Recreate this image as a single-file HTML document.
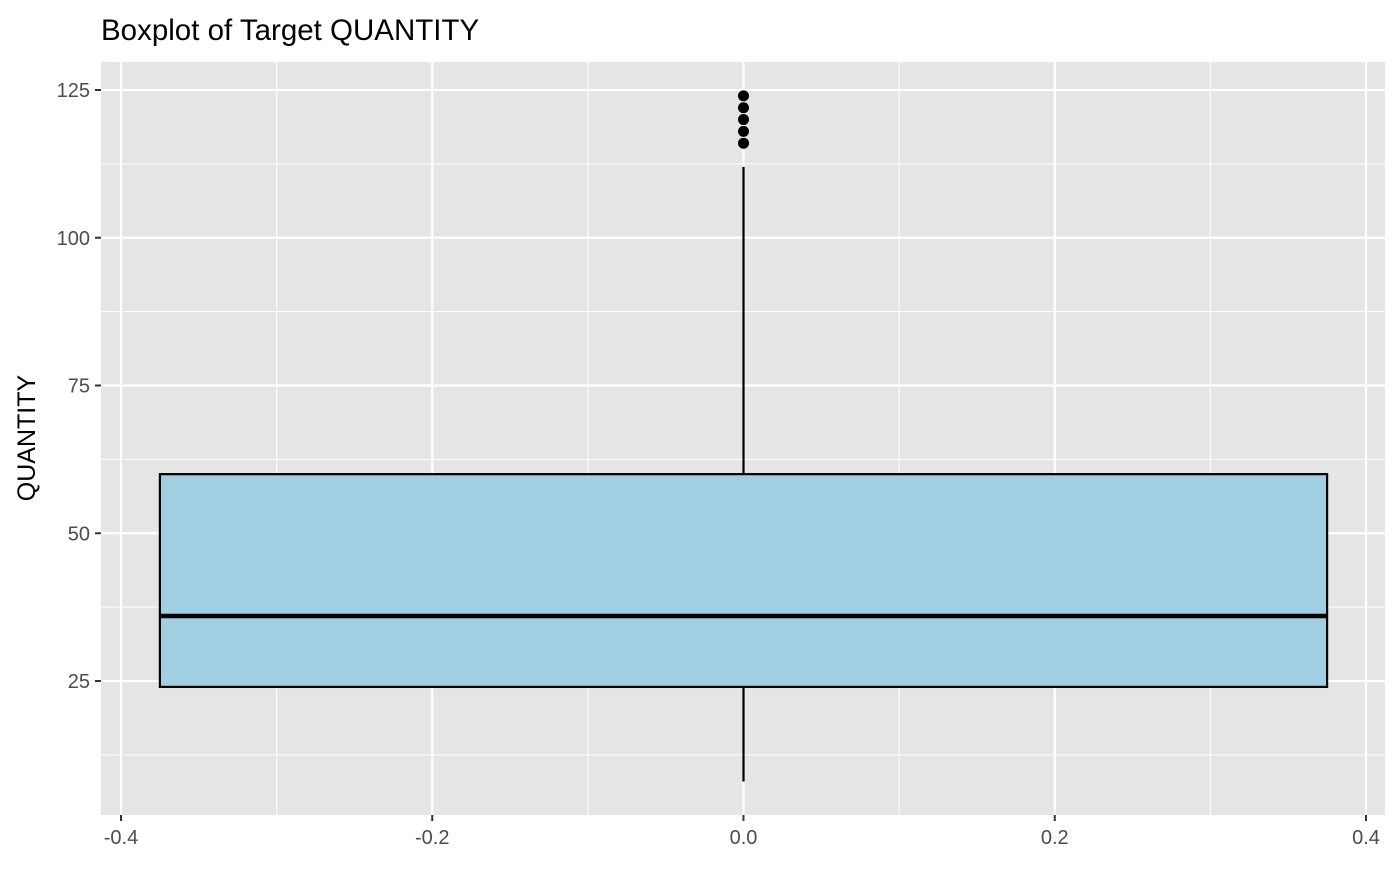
<!DOCTYPE html>
<html><head><meta charset="utf-8"><style>
body{margin:0;background:#fff;font-family:"Liberation Sans",Arial,sans-serif}
</style></head><body>
<svg id="chart" width="1400" height="865" xmlns="http://www.w3.org/2000/svg">
<text x="101" y="40" font-size="29.5" fill="#000">Boxplot of Target QUANTITY</text>
<text transform="translate(35,438) rotate(-90)" text-anchor="middle" font-size="25" fill="#000">QUANTITY</text>
<rect x="101" y="62" width="1284" height="753" fill="#e5e5e5"/>
<g id="grid"></g><g id="axes"></g><g id="marks"></g>
</svg>
<script>
const yTicks=[25,50,75,100,125];
const xTicks=[-0.4,-0.2,0.0,0.2,0.4];
const xTickLabels=["-0.4","-0.2","0.0","0.2","0.4"];
const boxStats=[8,24,36,60,112]; // lower whisker, q1, median, q3, upper whisker
const outliers=[116,118,120,122,124];
const boxHalfWidth=[0.375];
const NS="http://www.w3.org/2000/svg";
const X=v=>121+(v+0.4)/0.8*1245;
const Y=v=>681-(v-25)*(681-90)/100;
function mk(p,t,a){const e=document.createElementNS(NS,t);for(const k in a)e.setAttribute(k,a[k]);p.appendChild(e);return e;}
const grid=document.getElementById('grid'),axes=document.getElementById('axes'),marks=document.getElementById('marks');
for(let i=0;i<yTicks.length;i++){
 const y=Y(yTicks[i]);
 let l=mk(grid,'line',{x1:101,x2:1385,y1:y,y2:y,stroke:'#fff','stroke-width':2.2});
 
 
 if(i<yTicks.length-1){const ym=Y((yTicks[i]+yTicks[i+1])/2);
  let m=mk(grid,'line',{x1:101,x2:1385,y1:ym,y2:ym,stroke:'#fff','stroke-width':1.1});
  
  }
 mk(axes,'line',{x1:95,x2:101,y1:y,y2:y,stroke:'#333','stroke-width':2});
 let t=mk(axes,'text',{x:90,y:y+7,'text-anchor':'end','font-size':20,fill:'#4d4d4d'});
 t.textContent=yTicks[i];
 
 
}
{const ym=Y(12.5);let m=mk(grid,'line',{x1:101,x2:1385,y1:ym,y2:ym,stroke:'#fff','stroke-width':1.1});
 
 }
for(let i=0;i<xTicks.length;i++){
 const x=X(xTicks[i]);
 let l=mk(grid,'line',{x1:x,x2:x,y1:62,y2:815,stroke:'#fff','stroke-width':2.2});
 
 
 if(i<xTicks.length-1){const xm=X((xTicks[i]+xTicks[i+1])/2);
  let m=mk(grid,'line',{x1:xm,x2:xm,y1:62,y2:815,stroke:'#fff','stroke-width':1.1});
  
  }
 mk(axes,'line',{x1:x,x2:x,y1:815,y2:821,stroke:'#333','stroke-width':2});
 let t=mk(axes,'text',{x:x,y:844,'text-anchor':'middle','font-size':20,fill:'#4d4d4d'});
 t.textContent=xTickLabels[i];
 
 
}
const cx=X(0),bl=X(-boxHalfWidth[0]),br=X(boxHalfWidth[0]);
let w1=mk(marks,'line',{x1:cx,x2:cx,y1:Y(boxStats[0]),y2:Y(boxStats[1]),stroke:'#000','stroke-width':2.2});


let w2=mk(marks,'line',{x1:cx,x2:cx,y1:Y(boxStats[3]),y2:Y(boxStats[4]),stroke:'#000','stroke-width':2.2});


let b=mk(marks,'rect',{x:bl,y:Y(boxStats[3]),width:br-bl,height:Y(boxStats[1])-Y(boxStats[3]),fill:'#9fcfe0',stroke:'#000','stroke-width':2.2});


let md=mk(marks,'line',{x1:bl,x2:br,y1:Y(boxStats[2]),y2:Y(boxStats[2]),stroke:'#000','stroke-width':4.5});


outliers.forEach(v=>{
 let c=mk(marks,'circle',{cx:cx,cy:Y(v),r:5.5,fill:'#000'});
 
 
});
</script>
</body></html>
